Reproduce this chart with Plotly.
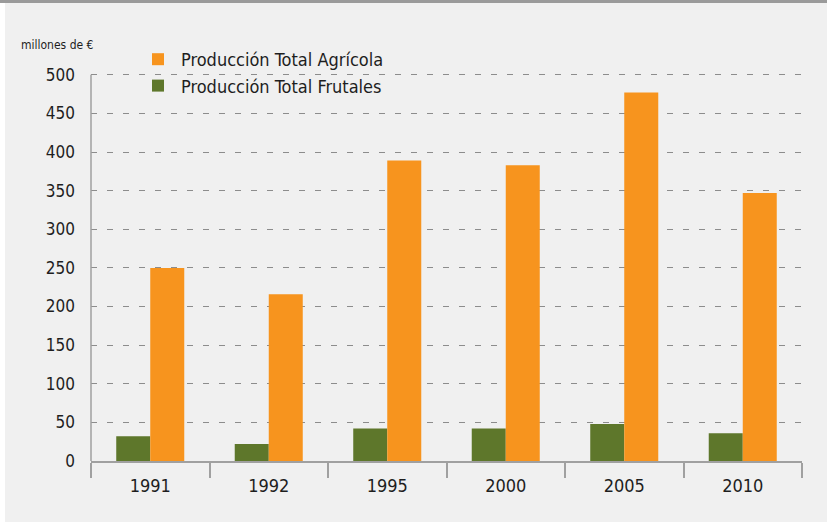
import plotly.graph_objects as go

# ---- palette ----------------------------------------------------------------
PANEL = "#f0f0f0"
BAND = "#9a9a9a"
AXIS = "#a0a0a0"
INK = "#1e1e1e"
ORANGE = "#f7941e"
GREEN = "#5e772b"
FONT = "DejaVu Sans Condensed, Liberation Sans Narrow, sans-serif"

# ---- data (millones de €) ------------------------------------------------------
years = ["1991", "1992", "1995", "2000", "2005", "2010"]
agricola = [250, 216, 389, 383, 477, 347]
frutales = [32, 22, 42, 42, 48, 36]
y_ticks = [0, 50, 100, 150, 200, 250, 300, 350, 400, 450, 500]

W, H = 827, 523
L, R, T, B = 91, 25, 71, 62
pw, ph = W - L - R, H - T - B


def px(x):
    return (x - L) / pw


def py(y):
    return (H - B - y) / ph


fig = go.Figure()
fig.add_trace(go.Bar(x=years, y=frutales, name="Producción Total Frutales",
                     marker={"color": GREEN, "line": {"width": 0}}))
fig.add_trace(go.Bar(x=years, y=agricola, name="Producción Total Agrícola",
                     marker={"color": ORANGE, "line": {"width": 0}}))

fig.update_layout(
    width=W, height=H,
    margin=dict(l=L, r=R, t=T, b=B, autoexpand=False),
    paper_bgcolor="white", plot_bgcolor=PANEL,
    barmode="group", bargap=0.426, bargroupgap=0,
    font={"family": FONT, "color": INK},
    showlegend=True,
    legend=dict(x=px(135), y=py(41), xanchor="left", yanchor="top",
                traceorder="reversed", bgcolor="rgba(0,0,0,0)",
                font={"size": 18, "color": INK, "family": FONT},
                itemwidth=36, tracegroupgap=0),
    shapes=[
        dict(type="rect", xref="paper", yref="paper", layer="below",
             x0=px(5), x1=px(W), y0=py(H - 1), y1=py(3),
             fillcolor=PANEL, line={"width": 0}),
        dict(type="rect", xref="paper", yref="paper", layer="below",
             x0=px(0), x1=px(W), y0=py(3), y1=py(0),
             fillcolor=BAND, line={"width": 0}),
        # vertical axis line stops at the 500 gridline
        dict(type="line", xref="paper", yref="y", x0=0, x1=0, y0=0, y1=500,
             line={"color": AXIS, "width": 1.5}),
    ],
    annotations=[
        dict(text="millones de €", xref="paper", yref="paper", showarrow=False,
             x=px(19), y=py(45), xanchor="left", yanchor="middle",
             font={"size": 12, "color": INK, "family": FONT}),
    ],
)

fig.update_xaxes(
    type="category", showgrid=False, zeroline=False,
    showline=True, linecolor=AXIS, linewidth=1.5,
    ticks="outside", tickson="boundaries", ticklen=15, tickcolor=AXIS, tickwidth=1.5,
    ticklabelstandoff=8,
    tickfont={"size": 18, "color": INK, "family": FONT},
)
fig.update_yaxes(
    range=[0, 505], tickvals=y_ticks, ticktext=[str(v) for v in y_ticks],
    showgrid=True, gridcolor="#8c8c8c", gridwidth=1, griddash="6px,10px",
    zeroline=False, showline=False,
    ticks="", ticklabelstandoff=15,
    tickfont={"size": 17, "color": INK, "family": FONT},
)

fig.write_html("out.html", config={"displayModeBar": False},
               post_script="document.body.style.margin='0';")
